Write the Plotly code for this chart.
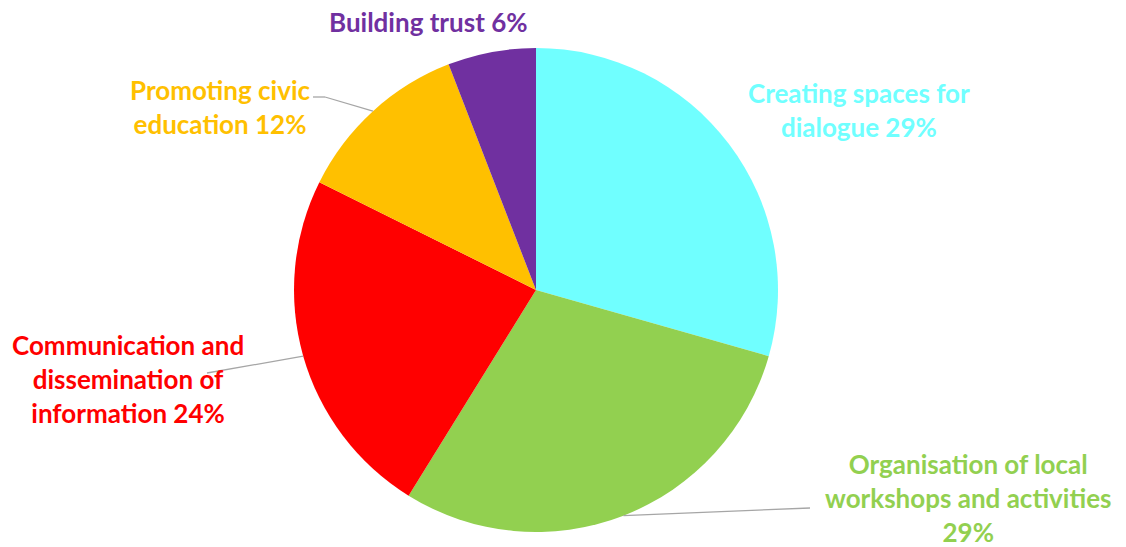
import math
import plotly.graph_objects as go

labels = ["Creating spaces for<br>dialogue", "Organisation of local<br>workshops and activities<br>",
          "Communication and<br>dissemination of<br>information", "Promoting civic<br>education", "Building trust"]
values = [5, 5, 4, 2, 1]
colors = ["#70FFFF", "#92D050", "#FF0000", "#FFC000", "#7030A0"]

W, H = 1126, 547
CX, CY, R = 536, 290, 242


def px(x):
    return x / W


def py(y):
    return 1 - y / H


fig = go.Figure(go.Pie(
    labels=labels, values=values, sort=False, direction="clockwise", rotation=0,
    marker=dict(colors=colors, line=dict(width=0)),
    textinfo="none", hoverinfo="label+percent", showlegend=False,
    domain=dict(x=[px(CX - R), px(CX + R)], y=[py(CY + R), py(CY - R)]),
))

total = sum(values)
pct = [round(v / total * 100) for v in values]

# label centres (pixels) and optional leader-line elbow points
label_pos = [(859, 110), (968, 498), (128, 379), (220, 107), (428, 22)]
elbows = [None, [(810, 508)], [(207, 373)], [(313, 97), (325, 97)], None]

cum = 0
for i, (lab, v) in enumerate(zip(labels, values)):
    mid = (cum + v / 2) / total * 2 * math.pi
    cum += v
    sep = "" if lab.endswith("<br>") else " "
    fig.add_annotation(
        x=px(label_pos[i][0]), y=py(label_pos[i][1]), xref="paper", yref="paper",
        xanchor="center", yanchor="middle",
        text=f"{lab}{sep}{pct[i]}%", showarrow=False, align="center",
        font=dict(family="Lato", size=26, color=colors[i], weight="bold"),
    )
    if elbows[i]:
        ex, ey = CX + R * math.sin(mid), CY - R * math.cos(mid)
        pts = elbows[i] + [(ex, ey)]
        for (x0, y0), (x1, y1) in zip(pts[:-1], pts[1:]):
            fig.add_shape(type="line", xref="paper", yref="paper",
                          x0=px(x0), y0=py(y0), x1=px(x1), y1=py(y1),
                          line=dict(color="#A6A6A6", width=1.3))

fig.update_layout(width=W, height=H, margin=dict(l=0, r=0, t=0, b=0),
                  paper_bgcolor="white", plot_bgcolor="white")
fig.write_html("out.html", config={"displayModeBar": False},
               post_script="document.body.style.margin='0';")
